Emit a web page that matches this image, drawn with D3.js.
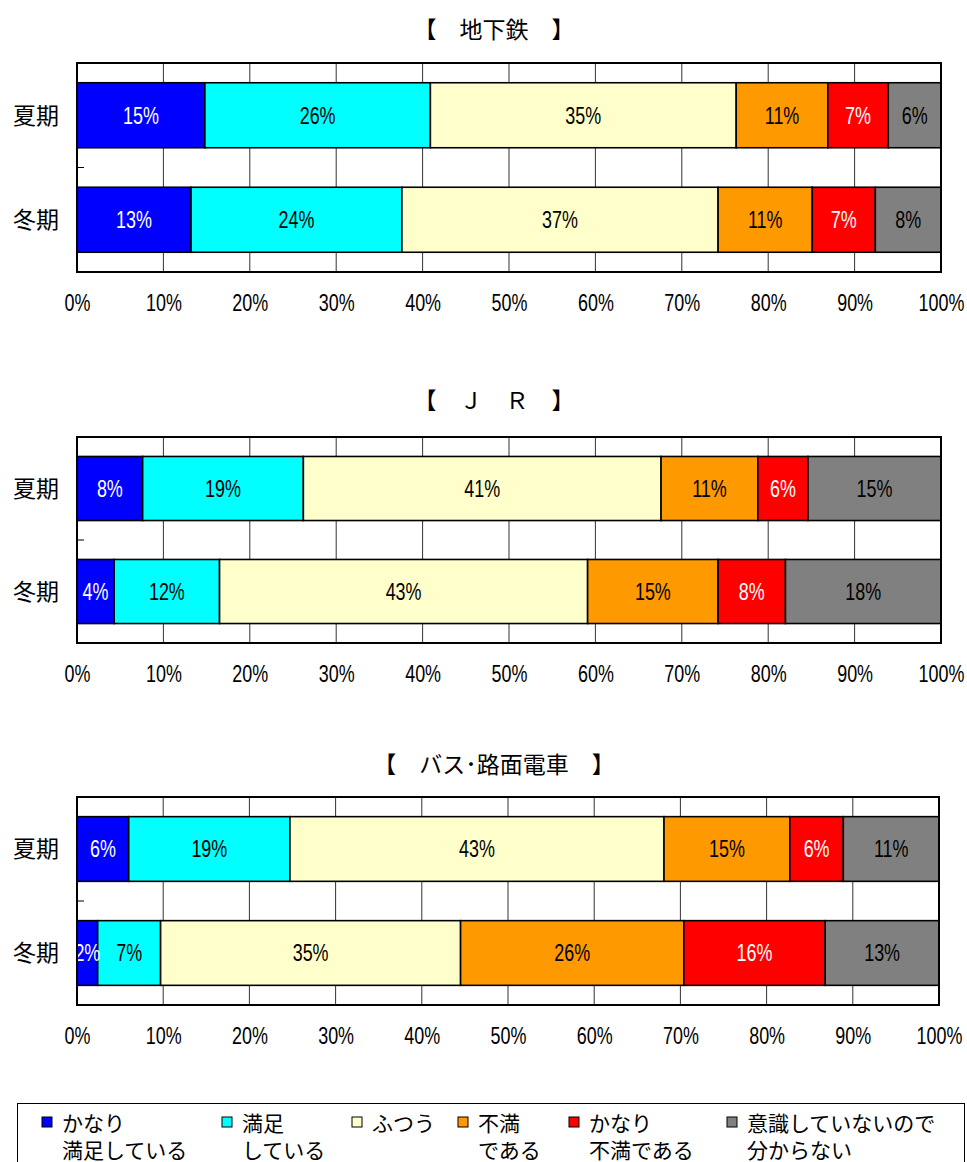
<!DOCTYPE html>
<html>
<head>
<meta charset="utf-8">
<script src="https://cdn.jsdelivr.net/npm/d3@7"></script>
<style>
  body { margin: 0; background: #fff; }
  text { font-family: "Liberation Sans", Arial, sans-serif; }
  .jp { font-family: "Noto Sans CJK JP", "Noto Sans", sans-serif; }
</style>
</head>
<body>
<div id="chart"></div>
<script>
// categories
const seasons = ['夏期', '冬期'];
const answers = ['かなり満足している', '満足している', 'ふつう', '不満である', 'かなり不満である', '意識していないので分からない'];
const legendLines = [['かなり', '満足している'], ['満足', 'している'], ['ふつう'], ['不満', 'である'], ['かなり', '不満である'], ['意識していないので', '分からない']];
const colors = ['#0000ff', '#00ffff', '#ffffcc', '#ff9900', '#ff0000', '#808080'];
const labelColors = ['#fff', '#000', '#000', '#000', '#fff', '#000'];
const tickValues = [0, 10, 20, 30, 40, 50, 60, 70, 80, 90, 100];

// series values (%)
const subwaySummer = [14.8, 26.1, 35.4, 10.6, 7.0, 6.1];
const subwayWinter = [13.2, 24.4, 36.6, 10.9, 7.3, 7.6];
const jrSummer = [7.6, 18.6, 41.4, 11.2, 5.8, 15.4];
const jrWinter = [4.3, 12.2, 42.6, 15.1, 7.8, 18.0];
const busSummer = [6.0, 18.7, 43.4, 14.6, 6.2, 11.1];
const busWinter = [2.4, 7.3, 34.8, 25.9, 16.4, 13.2];

const W = 967, H = 1162;

const panels = [
  { title: '【　地下鉄　】', rows: [subwaySummer, subwayWinter], titleY: 38, top: 63, bottom: 272, right: 941 },
  { title: '【　Ｊ　Ｒ　】', rows: [jrSummer, jrWinter], titleY: 409, top: 437, bottom: 643, right: 941 },
  { title: '【　バス･路面電車　】', rows: [busSummer, busWinter], titleY: 773, top: 797, bottom: 1005, right: 939 }
];

const svg = d3.select('#chart').append('svg')
  .attr('width', W)
  .attr('height', H);

const left = 77;
const squeeze = 'scale(0.78,1)';

panels.forEach(p => {
  const x = d3.scaleLinear().domain([0, 100]).range([left, p.right]);
  const y = d3.scaleBand().domain(seasons).range([p.top, p.bottom])
    .paddingInner(0.378).paddingOuter(0.189);
  const g = svg.append('g');

  g.append('text')
    .attr('class', 'jp')
    .attr('x', 494)
    .attr('y', p.titleY)
    .attr('text-anchor', 'middle')
    .attr('font-size', 23)
    .text(p.title);

  // grid
  g.selectAll('.grid')
    .data(tickValues.slice(1, -1))
    .enter().append('line')
    .attr('x1', d => x(d)).attr('x2', d => x(d))
    .attr('y1', p.top).attr('y2', p.bottom)
    .attr('stroke', '#333')
    .attr('stroke-width', 1);

  // stacked bars
  seasons.forEach((s, i) => {
    const vals = p.rows[i];
    let acc = 0;
    const segs = vals.map((v, j) => {
      const seg = { x0: acc, x1: acc + v, v: v, j: j };
      acc += v;
      return seg;
    });

    const row = g.append('g');
    row.selectAll('rect')
      .data(segs)
      .enter().append('rect')
      .attr('x', d => x(d.x0))
      .attr('y', y(s))
      .attr('width', d => x(d.x1) - x(d.x0))
      .attr('height', y.bandwidth())
      .attr('fill', d => colors[d.j])
      .attr('stroke', '#000')
      .attr('stroke-width', 1.6);

    row.selectAll('.lbl')
      .data(segs)
      .enter().append('g')
      .attr('transform', d => `translate(${(x(d.x0) + x(d.x1)) / 2},${y(s) + y.bandwidth() / 2})`)
      .append('text')
      .attr('transform', squeeze)
      .attr('text-anchor', 'middle')
      .attr('dy', '0.36em')
      .attr('font-size', 23)
      .attr('fill', d => labelColors[d.j])
      .text(d => Math.round(d.v) + '%');

    g.append('text')
      .attr('class', 'jp')
      .attr('x', 59)
      .attr('y', y(s) + y.bandwidth() / 2)
      .attr('dy', '0.36em')
      .attr('text-anchor', 'end')
      .attr('font-size', 23)
      .text(s);
  });

  // small category separator tick
  const mid = p.top + y.step() * (y.paddingOuter() + 1 - y.paddingInner() / 2);
  g.append('line')
    .attr('x1', left).attr('x2', left + 7)
    .attr('y1', mid).attr('y2', mid)
    .attr('stroke', '#000');

  // frame
  g.append('rect')
    .attr('x', left).attr('y', p.top)
    .attr('width', p.right - left).attr('height', p.bottom - p.top)
    .attr('fill', 'none')
    .attr('stroke', '#000')
    .attr('stroke-width', 2);

  // x axis labels
  const axis = g.append('g')
    .attr('transform', `translate(0,${p.bottom})`)
    .call(d3.axisBottom(x).tickValues(tickValues).tickSize(0).tickPadding(0).tickFormat(d => d + '%'));
  axis.select('.domain').remove();
  axis.selectAll('text')
    .attr('y', 39)
    .attr('dy', 0)
    .attr('transform', squeeze)
    .attr('font-size', 23)
    .attr('font-family', '"Liberation Sans", Arial, sans-serif')
    .attr('fill', '#000');
});

// legend
const legend = svg.append('g');
legend.append('rect')
  .attr('x', 17.5).attr('y', 1103.5)
  .attr('width', 947).attr('height', 80)
  .attr('fill', '#fff')
  .attr('stroke', '#000')
  .attr('stroke-width', 1);

const legendX = [42, 222, 352, 458, 569, 727];
const item = legend.selectAll('.item')
  .data(answers)
  .enter().append('g')
  .attr('transform', (d, i) => `translate(${legendX[i]},1117)`);

item.append('rect')
  .attr('width', 10).attr('height', 10)
  .attr('fill', (d, i) => colors[i])
  .attr('stroke', '#000')
  .attr('stroke-width', 1);

item.each(function (d, i) {
  d3.select(this).selectAll('text')
    .data(legendLines[i])
    .enter().append('text')
    .attr('class', 'jp')
    .attr('x', 20)
    .attr('y', (l, k) => 6 + k * 27)
    .attr('dy', '0.36em')
    .attr('font-size', 21)
    .text(l => l);
});
</script>
</body>
</html>
